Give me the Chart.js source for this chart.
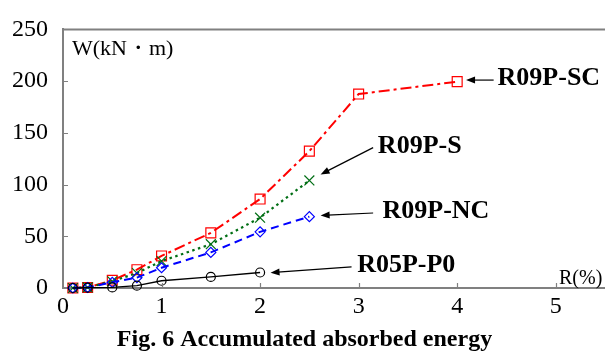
<!DOCTYPE html>
<html>
<head>
<meta charset="utf-8">
<script src="https://cdn.jsdelivr.net/npm/chart.js@4.4.1/dist/chart.umd.min.js"></script>
<style>
  html, body { margin: 0; padding: 0; background: #fff; }
</style>
</head>
<body>
<canvas id="energyChart" width="605" height="354"></canvas>
<script>
// Angle de dérive R (%)
const driftR = [0.1, 0.25, 0.5, 0.75, 1, 1.5, 2, 2.5, 3, 4];

// Énergie absorbée cumulée W (kN·m), une série par spécimen
const energyP0 = [0, 0.3, 0.6, 2.2, 7, 10.7, 15];
const energyNC = [0, 0.5, 5.5, 10, 19.6, 34.4, 54.3, 69];
const energyS  = [0, 0.5, 6.5, 14.5, 26, 42.3, 68, 104];
const energySC = [0, 0.5, 7.5, 17.7, 31, 53.3, 86, 132.3, 187.5, 199.5];

const specimenNames = ['R09P-SC', 'R09P-S', 'R09P-NC', 'R05P-P0'];

const xTicks = [0, 1, 2, 3, 4, 5];
const yTicks = [0, 50, 100, 150, 200, 250];

const yTitle = 'W(kN・m)';
const xTitle = 'R(%)';
const caption = 'Fig. 6 Accumulated absorbed energy';

const SERIF = "'Liberation Serif', 'Times New Roman', serif";
const AXIS_GRAY = '#808080';

function toPoints(values) {
    return values.map((y, i) => ({ x: driftR[i], y: y }));
}

// Étiquettes avec flèches (positions en unités des données)
const callouts = [
    { name: specimenNames[0], at: [4.41, 196.6], from: [4.37, 201], to: [4.09, 201] },
    { name: specimenNames[1], at: [3.195, 130.3], from: [3.147, 135.7], to: [2.614, 109.8] },
    { name: specimenNames[2], at: [3.242, 67.8], from: [3.147, 72.5], to: [2.614, 70.1] },
    { name: specimenNames[3], at: [2.985, 15.7], from: [2.928, 20.5], to: [2.106, 14.8] },
];

const decorations = {
    id: 'decorations',
    afterDraw(chart) {
        const ctx = chart.ctx;
        const area = chart.chartArea;
        const xs = chart.scales.x;
        const ys = chart.scales.y;
        ctx.save();

        // cadre supérieur
        ctx.strokeStyle = AXIS_GRAY;
        ctx.lineWidth = 2;
        ctx.beginPath();
        ctx.moveTo(area.left - 1, ys.getPixelForValue(250));
        ctx.lineTo(area.right, ys.getPixelForValue(250));
        ctx.stroke();

        // graduations vers l'intérieur
        ctx.lineWidth = 1.2;
        ctx.beginPath();
        yTicks.forEach(v => {
            if (v === 0) return;
            const py = Math.round(ys.getPixelForValue(v)) + 0.5;
            ctx.moveTo(area.left, py);
            ctx.lineTo(area.left + 5, py);
        });
        xTicks.forEach(v => {
            if (v === 0) return;
            const px = Math.round(xs.getPixelForValue(v)) + 0.5;
            ctx.moveTo(px, area.bottom);
            ctx.lineTo(px, area.bottom - 5);
        });
        ctx.stroke();

        // titres des axes
        ctx.fillStyle = '#000';
        ctx.textBaseline = 'alphabetic';
        ctx.textAlign = 'left';
        ctx.font = '22px ' + SERIF;
        ctx.fillText(yTitle, area.left + 9, area.top + 26);
        ctx.font = '20px ' + SERIF;
        ctx.fillText(xTitle, area.right - 46, area.bottom - 4);

        // étiquettes des spécimens et flèches
        ctx.font = 'bold 26px ' + SERIF;
        callouts.forEach(c => {
            ctx.fillText(c.name, xs.getPixelForValue(c.at[0]), ys.getPixelForValue(c.at[1]));
            const x1 = xs.getPixelForValue(c.from[0]), y1 = ys.getPixelForValue(c.from[1]);
            const x2 = xs.getPixelForValue(c.to[0]), y2 = ys.getPixelForValue(c.to[1]);
            const ang = Math.atan2(y2 - y1, x2 - x1);
            const len = 9, half = 3.5;
            ctx.strokeStyle = '#000';
            ctx.lineWidth = 1.2;
            ctx.beginPath();
            ctx.moveTo(x1, y1);
            ctx.lineTo(x2 - Math.cos(ang) * len * 0.8, y2 - Math.sin(ang) * len * 0.8);
            ctx.stroke();
            ctx.beginPath();
            ctx.moveTo(x2, y2);
            ctx.lineTo(x2 - Math.cos(ang) * len - Math.sin(ang) * half, y2 - Math.sin(ang) * len + Math.cos(ang) * half);
            ctx.lineTo(x2 - Math.cos(ang) * len + Math.sin(ang) * half, y2 - Math.sin(ang) * len - Math.cos(ang) * half);
            ctx.closePath();
            ctx.fillStyle = '#000';
            ctx.fill();
        });

        // légende de la figure
        ctx.font = 'bold 24px ' + SERIF;
        ctx.textAlign = 'center';
        ctx.fillText(caption, chart.width / 2 + 2, 346);
        ctx.restore();
    }
};

const baseSet = {
    showLine: true,
    fill: false,
    clip: false,
    pointBackgroundColor: 'rgba(0, 0, 0, 0)',
    pointBorderWidth: 1.2,
    tension: 0,
};

new Chart(document.getElementById('energyChart'), {
    type: 'scatter',
    data: {
        datasets: [
            Object.assign({}, baseSet, {
                label: specimenNames[3],
                data: toPoints(energyP0),
                borderColor: '#000',
                pointBorderColor: '#000',
                borderWidth: 1.3,
                pointStyle: 'circle',
                pointRadius: 4.5,
            }),
            Object.assign({}, baseSet, {
                label: specimenNames[2],
                data: toPoints(energyNC),
                borderColor: '#0000ff',
                pointBorderColor: '#0000ff',
                borderWidth: 2,
                borderDash: [8, 5],
                pointStyle: 'rectRot',
                pointRadius: 5,
            }),
            Object.assign({}, baseSet, {
                label: specimenNames[1],
                data: toPoints(energyS),
                borderColor: 'rgb(0, 110, 20)',
                pointBorderColor: 'rgb(0, 110, 20)',
                borderWidth: 2.2,
                borderDash: [2.5, 3.5],
                pointStyle: 'crossRot',
                pointRadius: 7,
            }),
            Object.assign({}, baseSet, {
                label: specimenNames[0],
                data: toPoints(energySC),
                borderColor: '#ff0000',
                pointBorderColor: '#ff0000',
                borderWidth: 2,
                borderDash: [11, 4, 3, 4],
                pointStyle: 'rect',
                pointRadius: 7,
            }),
        ]
    },
    options: {
        responsive: false,
        animation: false,
        layout: {
            autoPadding: false,
            padding: { top: 24, right: 0, left: 0, bottom: 0 }
        },
        plugins: {
            legend: { display: false },
            tooltip: { enabled: false },
        },
        scales: {
            x: {
                type: 'linear',
                min: 0,
                max: 5.5,
                afterBuildTicks: axis => { axis.ticks = xTicks.map(v => ({ value: v })); },
                afterFit: axis => { axis.height = 66; },
                grid: { display: false, drawTicks: false },
                border: { display: true, color: AXIS_GRAY, width: 2 },
                ticks: {
                    padding: 4,
                    maxRotation: 0,
                    color: '#000',
                    font: { family: SERIF, size: 24 }
                }
            },
            y: {
                type: 'linear',
                min: 0,
                max: 250,
                afterBuildTicks: axis => { axis.ticks = yTicks.map(v => ({ value: v })); },
                afterFit: axis => { axis.width = 63; },
                grid: { display: false, drawTicks: false },
                border: { display: true, color: AXIS_GRAY, width: 2 },
                ticks: {
                    padding: 15,
                    color: '#000',
                    font: { family: SERIF, size: 24 }
                }
            }
        }
    },
    plugins: [decorations]
});
</script>
</body>
</html>
